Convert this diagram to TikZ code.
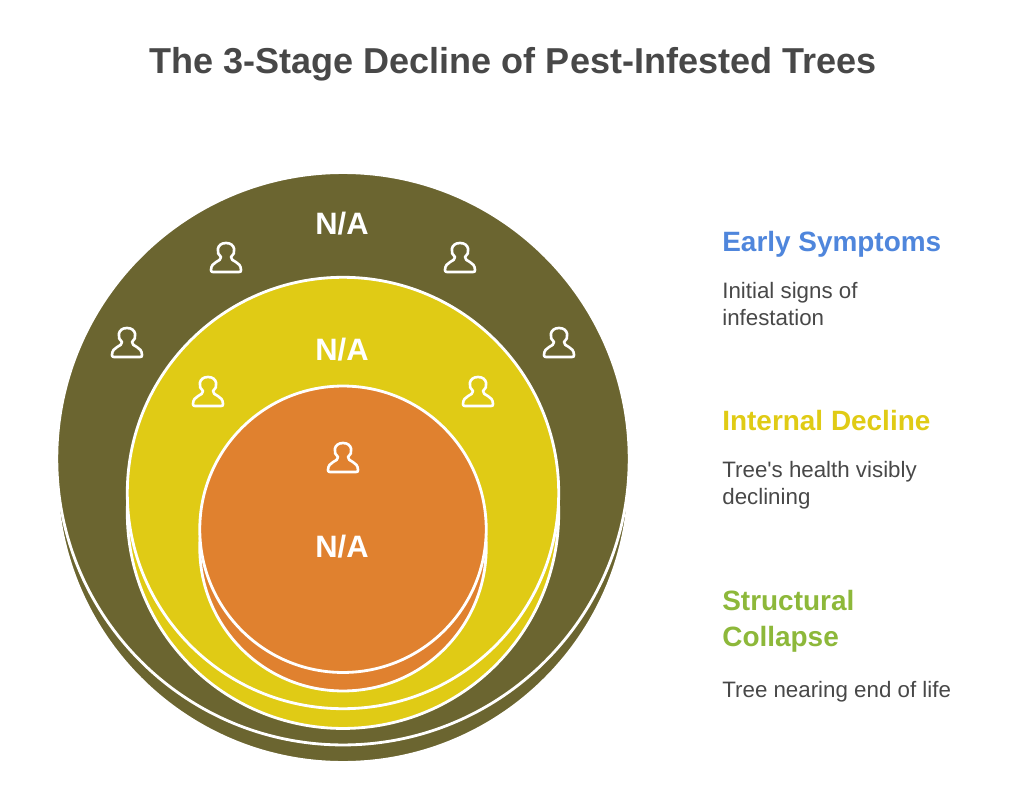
\documentclass[tikz,border=0pt]{standalone}
\usepackage{fontspec}
\setmainfont{Liberation Sans}
\usetikzlibrary{positioning}
\definecolor{olivec}{HTML}{6B6530}
\definecolor{yellowc}{HTML}{E0CB15}
\definecolor{orangec}{HTML}{E0812F}
\definecolor{bluet}{HTML}{4F86DC}
\definecolor{greent}{HTML}{8DB83A}
\definecolor{greyt}{HTML}{484848}
\begin{document}
\begin{tikzpicture}[x=0.02cm, y=-0.02cm]
	\tikzset{
		round/.style = {draw=white, line width=1.6pt, circle, inner sep=0pt, outer sep=0pt},
		lab/.style = {white, font=\fontsize{17.6}{20}\selectfont\bfseries},
		head/.style = {anchor=west, inner sep=0pt, font=\fontsize{15.9}{20.4}\selectfont\bfseries, align=left},
		body/.style = {anchor=west, inner sep=0pt, greyt, font=\fontsize{12.7}{15.3}\selectfont, align=left},
		person/.pic = {
			\draw[white, line width=1.5pt, line join=round]
			(-5,-1) .. controls (-10,-4) and (-10,-15) .. (0,-15) .. controls (10,-15) and (10,-4) .. (5,-1)
			.. controls (4.5,4) and (15,3) .. (15,12) .. controls (15,13.5) and (14.5,14) .. (13,14)
			-- (-13,14) .. controls (-14.5,14) and (-15,13.5) .. (-15,12) .. controls (-15,3) and (-4.5,4) .. (-5,-1) -- cycle;
		}
	}
	\useasboundingbox (0, 0) rectangle (1024, 787);

	\node[font=\fontsize{20.5}{24}\selectfont\bfseries, greyt] at (513, 64) (title) {The 3-Stage Decline of Pest-Infested Trees};

	\node[round, fill=olivec, minimum size=11.45cm] at (343, 476.25) (outerlow) {};
	\node[round, fill=olivec, minimum size=11.45cm] at (343, 458.75) (outer) {};
	\node[round, fill=yellowc, minimum size=8.63cm] at (343, 512.75) (midlow) {};
	\node[round, fill=yellowc, minimum size=8.63cm] at (343, 493) (mid) {};
	\node[round, fill=orangec, minimum size=5.73cm] at (343, 547.75) (innerlow) {};
	\node[round, fill=orangec, minimum size=5.73cm] at (343, 529.25) (inner) {};

	\node[lab] at (342, 224) (na1) {N/A};
	\node[lab] at (342, 350) (na2) {N/A};
	\node[lab] at (342, 547) (na3) {N/A};

	\pic at (226, 258) (ico1) {person};
	\pic at (460, 258) (ico2) {person};
	\pic at (127, 343) (ico3) {person};
	\pic at (559, 343) (ico4) {person};
	\pic at (208, 392) (ico5) {person};
	\pic at (478, 392) (ico6) {person};
	\pic at (343, 458) (ico7) {person};

	\node[head, bluet] at (722, 244) (early) {Early Symptoms};
	\node[body] at (722, 304) (earlytxt) {Initial signs of\\infestation};
	\node[head, yellowc] at (722, 421) (internal) {Internal Decline};
	\node[body] at (722, 485) (internaltxt) {Tree\textquotesingle s health visibly\\declining};
	\node[head, greent] at (722, 621) (struct) {Structural\\Collapse};
	\node[body] at (722, 692) (structtxt) {Tree nearing end of life};
\end{tikzpicture}
\end{document}
